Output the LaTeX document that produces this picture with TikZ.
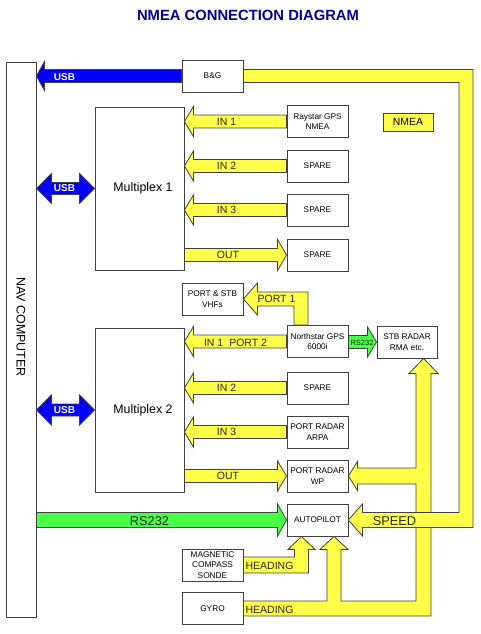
\documentclass[tikz,border=0pt]{standalone}
\usepackage{fontspec}
\setmainfont{Liberation Sans}
\usetikzlibrary{arrows.meta,calc,positioning}
\definecolor{NmeaYellow}{RGB}{255,255,72}
\definecolor{LinkGreen}{RGB}{72,255,72}
\definecolor{UsbBlue}{RGB}{0,0,255}
\definecolor{TitleBlue}{RGB}{0,0,150}
\definecolor{EdgeGray}{RGB}{64,64,64}

% straight block arrow: [style]{tip}{tail}{head length}{head half width}{shaft half width}
\newcommand{\fatarrow}[6][]{%
  \filldraw[fatline,#1] let \p1=(#2), \p2=(#3), \p3=($(#2)!#4!(#3)$) in
    (\x2,\y1+#6) -- (\x3,\y1+#6) -- (\x3,\y1+#5) -- (\x1,\y1)
    -- (\x3,\y1-#5) -- (\x3,\y1-#6) -- (\x2,\y1-#6) -- cycle;}
% block arrow with a head at both ends
\newcommand{\dblarrow}[6][]{%
  \filldraw[fatline,#1] let \p1=(#2), \p2=(#3), \p3=($(#2)!#4!(#3)$), \p4=($(#3)!#4!(#2)$) in
    (\x1,\y1) -- (\x3,\y1+#5) -- (\x3,\y1+#6) -- (\x4,\y1+#6) -- (\x4,\y1+#5)
    -- (\x2,\y1) -- (\x4,\y1-#5) -- (\x4,\y1-#6) -- (\x3,\y1-#6) -- (\x3,\y1-#5) -- cycle;}

\begin{document}
\begin{tikzpicture}[x=1pt,y=-1pt,>=Latex,
  box/.style={draw=EdgeGray,line width=0.9pt,fill=white,minimum width=61pt,
    minimum height=32pt,inner sep=0.5pt,align=center,
    font=\fontsize{8.3}{10.3}\selectfont},
  bigbox/.style={box,minimum width=89pt,font=\fontsize{12.4}{14}\selectfont},
  fatline/.style={draw=EdgeGray,line width=0.8pt,line join=miter},
  lbl/.style={font=\fontsize{10.5}{12}\selectfont,text=black!85,inner sep=0pt},
  usblbl/.style={font=\fontsize{10}{12}\selectfont\bfseries,text=white,inner sep=0pt}]
  \useasboundingbox (0,0) rectangle (480,634);

  \node[font=\fontsize{14.8}{16}\selectfont\bfseries,text=TitleBlue] (title) at (248,15)
    {NMEA CONNECTION DIAGRAM};

  % computer and multiplexers
  \node[draw=EdgeGray,line width=0.9pt,fill=white,minimum width=30pt,minimum height=555pt]
    (nav) at (21,339.5) {};
  \node[rotate=-90,font=\fontsize{12.5}{14}\selectfont] (navtext) at (21,327) {NAV COMPUTER};
  \node[bigbox,minimum height=163pt] (mux1) at (139.5,188.5) {\hspace*{7pt}Multiplex 1};
  \node[bigbox,minimum height=164pt] (mux2) at (139.5,410) {\hspace*{7pt}Multiplex 2};

  % devices
  \node[box] (bg) at (212.5,76) {B\&G};
  \node[box] (raystar) at (317.5,121.5) {Raystar GPS\\NMEA};
  \node[box] (spare1) at (317.5,166) {SPARE};
  \node[box] (spare2) at (317.5,210) {SPARE};
  \node[box] (spare3) at (317.5,255) {SPARE};
  \node[box] (vhf) at (212.5,299) {PORT \& STB\\VHFs};
  \node[box] (northstar) at (317.5,341.5) {Northstar GPS\\6000i};
  \node[box,minimum width=60pt] (stbradar) at (407,342) {STB RADAR\\RMA etc.};
  \node[box] (spare4) at (317.5,388) {SPARE};
  \node[box] (arpa) at (317.5,432) {PORT RADAR\\ARPA};
  \node[box] (wp) at (317.5,476) {PORT RADAR\\WP};
  \node[box] (autopilot) at (317.5,520) {AUTOPILOT};
  \node[box] (compass) at (212.5,565) {MAGNETIC\\COMPASS\\SONDE};
  \node[box] (gyro) at (212.5,608.5) {GYRO};
  \node[box,fill=NmeaYellow,minimum width=50pt,minimum height=18pt,
    font=\fontsize{10.4}{12}\selectfont] (legend) at (408,122) {NMEA};

  \coordinate (busR) at (466,0);
  \coordinate (busG) at (423.5,0);
  \coordinate (inlbl) at (226.5,0);

  % gyro heading to radars and autopilot
  \filldraw[fatline,fill=NmeaYellow] let \p1=(gyro.east), \p2=(busG |- stbradar.south),
      \p3=(wp.east), \p4=($(autopilot.south)+(16.5,0)$) in
    (\x1,\y1+7.5) -- (\x4-7,\y1+7.5) -- (\x4-7,\y4-13) -- (\x4-14,\y4-13) -- (\p4)
    -- (\x4+14,\y4-13) -- (\x4+7,\y4-13) -- (\x4+7,\y1+7.5) -- (\x2-7.5,\y1+7.5)
    -- (\x2-7.5,\y3-8) -- (\x3+9,\y3-8) -- (\x3+9,\y3-14.5) -- (\p3)
    -- (\x3+9,\y3+14.5) -- (\x3+9,\y3+8) -- (\x2-7.5,\y3+8) -- (\x2-7.5,\y2-15)
    -- (\x2-14.5,\y2-15) -- (\p2) -- (\x2+14.5,\y2-15) -- (\x2+7.5,\y2-15)
    -- (\x2+7.5,\y1-7.5) -- (\x1,\y1-7.5) -- cycle;
  % B&G speed to autopilot
  \filldraw[fatline,fill=NmeaYellow] let \p1=(bg.east), \p2=(autopilot.east), \p3=(busR) in
    (\x1,\y1+6.5) -- (\x3+7,\y1+6.5) -- (\x3+7,\y2-7.5) -- (\x2+14,\y2-7.5)
    -- (\x2+14,\y2-16) -- (\p2) -- (\x2+14,\y2+16) -- (\x2+14,\y2+7.5)
    -- (\x3-7,\y2+7.5) -- (\x3-7,\y1-6.5) -- (\x1,\y1-6.5) -- cycle;
  % compass heading
  \filldraw[fatline,fill=NmeaYellow] let \p1=(compass.east),
      \p2=($(autopilot.south)+(-16,0)$) in
    (\x1,\y1+8) -- (\x2-7,\y1+8) -- (\x2-7,\y2-13) -- (\x2-13.5,\y2-13) -- (\p2)
    -- (\x2+13.5,\y2-13) -- (\x2+7,\y2-13) -- (\x2+7,\y1-8) -- (\x1,\y1-8) -- cycle;
  % northstar port 1 to VHFs
  \filldraw[fatline,fill=NmeaYellow] let \p1=($(northstar.north)+(-16.5,0)$), \p2=(vhf.east) in
    (\x1-7,\y1) -- (\x1-7,\y2-7) -- (\x2+14,\y2-7) -- (\x2+14,\y2-16) -- (\p2)
    -- (\x2+14,\y2+16) -- (\x2+14,\y2+7) -- (\x1+7,\y2+7) -- (\x1+7,\y1) -- cycle;

  % USB links
  \fatarrow[fill=UsbBlue]{nav.east |- bg.west}{bg.west}{8pt}{14.5}{6.5}
  \dblarrow[fill=UsbBlue]{nav.east |- mux1.west}{mux1.west}{15pt}{15}{6}
  \dblarrow[fill=UsbBlue]{nav.east |- mux2.west}{mux2.west}{15pt}{15}{6}

  % multiplexer inputs and outputs
  \foreach \src/\txt in {raystar/IN 1,spare1/IN 2,spare2/IN 3,spare4/IN 2,arpa/IN 3}{
    \fatarrow[fill=NmeaYellow]{mux1.east |- \src.west}{\src.west}{9pt}{15}{6.5}
    \node[lbl] (lbl-\src) at (inlbl |- \src.west) {\txt};
  }
  \fatarrow[fill=NmeaYellow]{mux2.east |- northstar.west}{northstar.west}{9pt}{15}{6.5}
  \fatarrow[fill=NmeaYellow]{spare3.west}{mux1.east |- spare3.west}{9pt}{15.5}{6.5}
  \fatarrow[fill=NmeaYellow]{wp.west}{mux2.east |- wp.west}{9pt}{15}{6.5}

  % RS232 links
  \fatarrow[fill=LinkGreen]{stbradar.west}{northstar.east}{9pt}{15}{6.5}
  \fatarrow[fill=LinkGreen]{autopilot.west}{nav.east |- autopilot.west}{9pt}{16}{7.5}

  % labels
  \node[usblbl] (usb-bg) at (64.5,77) {USB};
  \node[usblbl] (usb-mux1) at (64.5,188) {USB};
  \node[usblbl] (usb-mux2) at (64.5,410) {USB};
  \node[lbl] (out1) at (228,255) {OUT};
  \node[lbl] (out2) at (228,476) {OUT};
  \node[lbl] (port1) at (276.5,299) {PORT 1};
  \node[lbl] (port2) at (235.5,343) {IN 1\hspace{6pt}PORT 2};
  \node[lbl,font=\fontsize{7.5}{9}\selectfont] (rs-small) at (362,343) {RS232};
  \node[lbl,font=\fontsize{12.8}{14}\selectfont] (rs-big) at (149.5,521) {RS232};
  \node[lbl,font=\fontsize{12.8}{14}\selectfont] (speed) at (394.5,521) {SPEED};
  \node[lbl] (head1) at (269.5,566) {HEADING};
  \node[lbl] (head2) at (269.5,610) {HEADING};
\end{tikzpicture}
\end{document}
